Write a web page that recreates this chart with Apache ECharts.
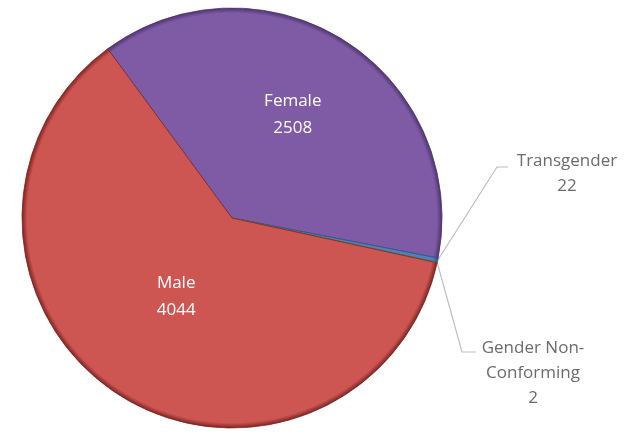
<!DOCTYPE html>
<html>
<head>
<meta charset="utf-8">
<script src="https://cdn.jsdelivr.net/npm/echarts@6/dist/echarts.min.js"></script>
<style>
  html, body { margin: 0; padding: 0; background: #fff; }
  #chart { width: 641px; height: 433px; }
</style>
</head>
<body>
<div id="chart"></div>
<script>
var categories = ['Female', 'Transgender', 'Gender Non-Conforming', 'Male']
var labelNames = ['Female', 'Transgender', 'Gender Non-\nConforming', 'Male']
var values = [2508, 22, 2, 4044]
var baseColors = ['#7f5ba6', '#4f81bd', '#9bbb59', '#cd5653']
var edgeColors = ['#4e3470', '#2c5283', '#5f7a2c', '#7e2422']

var cx = 232
var cy = 218
var R = 210

function sliceColor(i) {
  return {
    type: 'radial', x: cx, y: cy, r: R, global: true,
    colorStops: [
      { offset: 0, color: baseColors[i] },
      { offset: 0.9, color: baseColors[i] },
      { offset: 0.975, color: baseColors[i] },
      { offset: 1, color: edgeColors[i] }
    ]
  }
}

// outside label placement for the two tiny slices
var outside = {
  1: { x: 567, y: 174, bend: [497, 167], end: [508, 167] },
  2: { x: 533, y: 373, bend: [462, 352], end: [476, 352] }
}

var chart = echarts.init(document.getElementById('chart'))
chart.setOption({
  animation: false,
  series: [{
    type: 'pie',
    center: [cx, cy],
    radius: [0, R],
    startAngle: 126.3,
    clockwise: true,
    avoidLabelOverlap: false,
    data: categories.map(function(c, i) {
      var inside = (i === 0 || i === 3)
      return {
        name: c,
        value: values[i],
        itemStyle: {
          color: sliceColor(i),
          borderColor: edgeColors[i],
          borderWidth: 0.8
        },
        label: inside ? {
          position: 'inside',
          color: '#ffffff',
          fontSize: 17,
          lineHeight: 27,
          formatter: labelNames[i] + '\n{c}'
        } : {
          position: 'outside',
          color: '#6b6b6b',
          fontSize: 17,
          lineHeight: 25,
          align: 'center',
          formatter: labelNames[i] + '\n{c}'
        },
        labelLine: inside ? { show: false } : {
          show: true,
          lineStyle: { color: '#bdbdbd', width: 1.2 }
        }
      }
    }),
    label: {
      fontFamily: 'Open Sans'
    },
    labelLayout: function(params) {
      var o = outside[params.dataIndex]
      if (!o) return { dy: -12, dx: 3 }
      var start = params.labelLinePoints ? params.labelLinePoints[0] : [440, 258]
      return {
        x: o.x,
        y: o.y,
        align: 'center',
        verticalAlign: 'middle',
        labelLinePoints: [start, o.bend, o.end]
      }
    }
  }]
})
</script>
</body>
</html>
